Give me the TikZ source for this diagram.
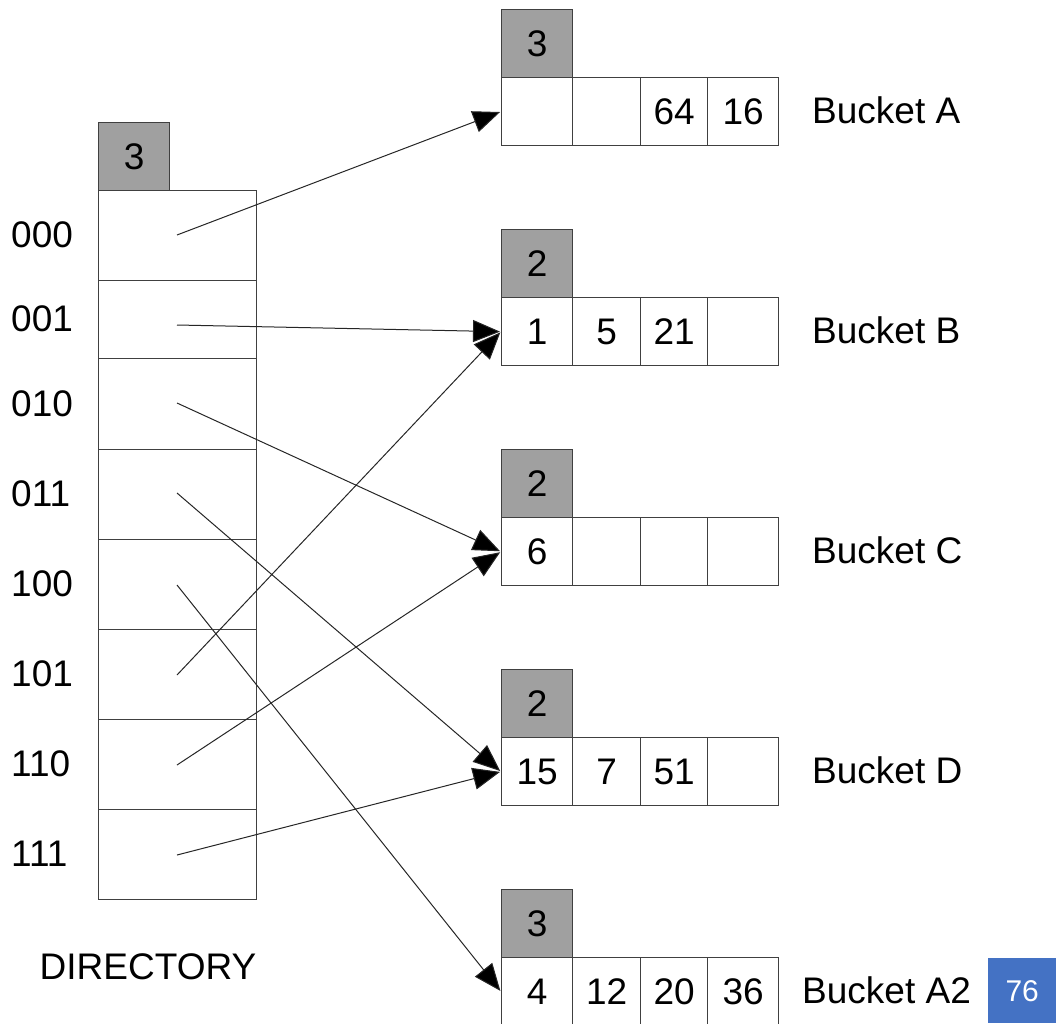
\documentclass[tikz,border=0pt]{standalone}
\usepackage{fontspec}
\setmainfont{Liberation Sans}
\usetikzlibrary{arrows.meta}
\definecolor{hdrgray}{HTML}{A0A0A0}
\definecolor{edgegray}{HTML}{404040}
\definecolor{slideblue}{HTML}{4472C4}
\tikzset{
  cell/.style={draw=edgegray, line width=1.3pt, fill=white, inner sep=0pt, anchor=north west,
    font=\fontsize{37}{37}\selectfont},
  hdr/.style={cell, fill=hdrgray},
  lbl/.style={font=\fontsize{37}{37}\selectfont, inner sep=0pt},
  ptr/.style={draw=black!85, line width=1pt, -{Triangle[length=27pt,width=22pt,fill=black]}, shorten >=1pt}
}
\begin{document}
\begin{tikzpicture}[x=1pt,y=-1pt]
\useasboundingbox (0,0) rectangle (1056,1023);

% directory: global depth and eight slots
\node[hdr, minimum width=71pt, minimum height=68pt] (dh) at (98,122) {3};
\foreach \i/\top/\h/\code in {0/190/90/000,1/280/78/001,2/358/91/010,3/449/90/011,4/539/90/100,5/629/90/101,6/719/90/110,7/809/90/111}{
  \node[cell, minimum width=158pt, minimum height=\h pt] (dir\i) at (98,\top) {};
  \node[lbl, anchor=west] (code\i) at (11,\top+0.5*\h) {\code};
}
\foreach \i/\y in {0/235,1/325,2/403,3/493,4/585,5/675,6/765,7/855}{
  \coordinate (s\i) at (177,\y);
}
\node[lbl] (dirname) at (148,967) {DIRECTORY};

% buckets: local depth and four entries
\foreach \b/\top/\d/\ea/\eb/\ec/\ed/\name in {
  A/77/3/{}/{}/64/16/{Bucket A},
  B/297/2/1/5/21/{}/{Bucket B},
  C/517/2/6/{}/{}/{}/{Bucket C},
  D/737/2/15/7/51/{}/{Bucket D},
  E/957/3/4/12/20/36/{Bucket A2}}{
  \node[hdr, minimum width=71pt, minimum height=68pt] (h\b) at (501,\top-68) {\d};
  \node[cell, minimum width=71pt, minimum height=68pt] (\b1) at (501,\top) {\ea};
  \node[cell, minimum width=68pt, minimum height=68pt] (\b2) at (572,\top) {\eb};
  \node[cell, minimum width=67pt, minimum height=68pt] (\b3) at (640,\top) {\ec};
  \node[cell, minimum width=71pt, minimum height=68pt] (\b4) at (707,\top) {\ed};
}
\node[lbl, anchor=west] (nA) at (812,110) {Bucket A};
\node[lbl, anchor=west] (nB) at (812,330) {Bucket B};
\node[lbl, anchor=west] (nC) at (812,550) {Bucket C};
\node[lbl, anchor=west] (nD) at (812,770) {Bucket D};
\node[lbl, anchor=west] (nE) at (802,990) {Bucket A2};

% directory pointers
\draw[ptr] (s0) -- (A1.west);
\draw[ptr] (s1) -- (B1.west);
\draw[ptr] (s2) -- (C1.west);
\draw[ptr] (s3) -- (D1.west);
\draw[ptr] (s4) -- (E1.west);
\draw[ptr] (s5) -- (B1.west);
\draw[ptr] (s6) -- (C1.west);
\draw[ptr] (s7) -- (D1.west);

% page number
\node[fill=slideblue, text=white, minimum width=68pt, minimum height=65pt, inner sep=0pt,
  font=\fontsize{30}{30}\selectfont, anchor=north west] (pg) at (988,958) {76};
\end{tikzpicture}
\end{document}
